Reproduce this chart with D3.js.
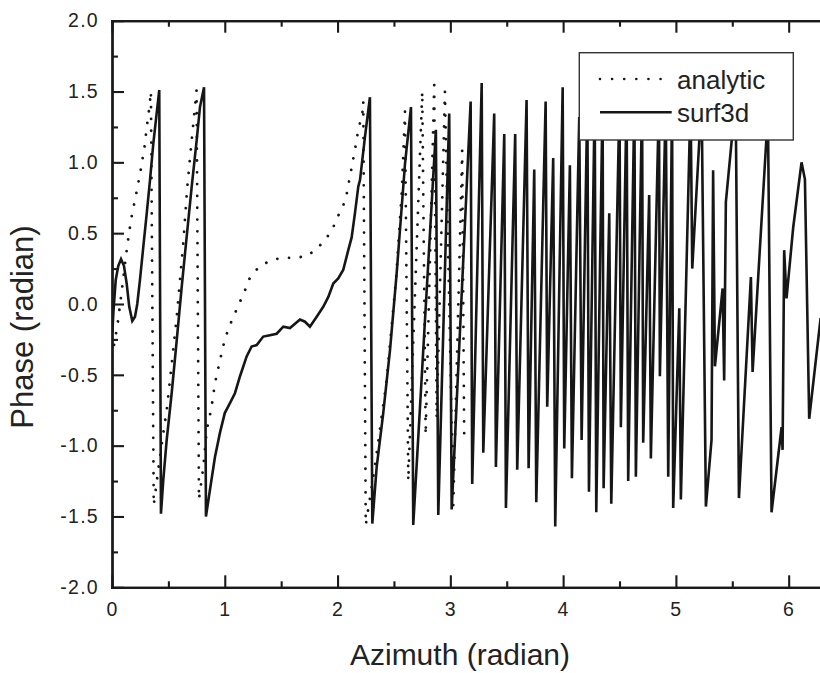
<!DOCTYPE html>
<html>
<head>
<meta charset="utf-8">
<script src="https://cdn.jsdelivr.net/npm/d3@7"></script>
<style>
  html, body { margin: 0; padding: 0; background: #fff; }
  svg { display: block; font-family: "Liberation Sans", Arial, Helvetica, sans-serif; }
  .axis .domain { stroke: #1a1a1a; stroke-width: 2.3; stroke-linecap: square; }
  .axis .tick line { stroke: #1a1a1a; stroke-width: 2.1; }
  .axis .tick text { fill: #222; font-size: 19.5px; letter-spacing: 1.3px; }
</style>
</head>
<body>
<div id="chart"></div>
<script>
// analytic phase (dotted)
const analyticX = [0.0, 0.02, 0.05, 0.08, 0.11, 0.14, 0.17, 0.20, 0.23, 0.26, 0.29, 0.31, 0.33, 0.345,
  0.37, 0.41, 0.455, 0.485, 0.53, 0.574, 0.603, 0.632, 0.668, 0.707, 0.73, 0.75,
  0.771, 0.81, 0.84, 0.88, 0.913, 0.957, 1.0, 1.045, 1.09, 1.135, 1.18, 1.22, 1.30, 1.41, 1.51, 1.62,
  1.73, 1.83, 1.92, 1.98, 2.02, 2.07, 2.11, 2.15, 2.184, 2.22, 2.228,
  2.25, 2.33, 2.435, 2.52, 2.57, 2.598,
  2.627, 2.751, 2.781, 2.857, 2.879, 2.952, 3.026, 3.105, 3.123]
const analyticY = [-0.37, -0.28, -0.14, 0.05, 0.25, 0.44, 0.60, 0.72, 0.84, 0.97, 1.12, 1.26, 1.38, 1.50,
  -1.42, -1.17, -0.91, -0.75, -0.42, -0.09, 0.17, 0.43, 0.83, 1.16, 1.345, 1.51,
  -1.38, -1.15, -0.89, -0.74, -0.56, -0.40, -0.25, -0.15, -0.066, 0.016, 0.098, 0.18, 0.26, 0.31, 0.326, 0.326,
  0.338, 0.40, 0.486, 0.57, 0.65, 0.73, 0.90, 1.07, 1.23, 1.345, 1.43,
  -1.56, -1.15, -0.54, 0.19, 0.80, 1.36,
  -1.25, 1.50, -0.925, 1.545, -0.81, 1.50, -1.42, 1.085, -0.96]

// surf3d phase (solid)
const surfX = [0.003, 0.013, 0.033, 0.056, 0.08, 0.106, 0.13, 0.153, 0.18, 0.204, 0.224, 0.248, 0.277, 0.308,
  0.337, 0.366, 0.396, 0.419,
  0.434, 0.455, 0.485, 0.529, 0.574, 0.618, 0.662, 0.707, 0.751, 0.78, 0.816,
  0.833, 0.869, 0.913, 0.957, 1.0, 1.046, 1.09, 1.135, 1.194, 1.238, 1.283, 1.341, 1.40, 1.46, 1.519, 1.578,
  1.667, 1.711, 1.755, 1.815, 1.873, 1.918, 1.962, 2.006, 2.05, 2.095, 2.125, 2.154, 2.184, 2.199, 2.243, 2.287,
  2.308, 2.347, 2.405, 2.465, 2.524, 2.598, 2.651,
  2.671, 2.872, 2.893, 2.99, 3.012, 3.18, 3.194, 3.278, 3.292, 3.389, 3.404, 3.478, 3.493, 3.575, 3.593,
  3.676, 3.694, 3.744, 3.762, 3.845, 3.859, 3.912, 3.93, 3.996, 4.01, 4.06, 4.078, 4.143, 4.164,
  4.215, 4.229, 4.28, 4.294, 4.35, 4.359, 4.409, 4.427, 4.5, 4.512, 4.563, 4.577, 4.632, 4.645,
  4.70, 4.71, 4.763, 4.778, 4.85, 4.858, 4.91, 4.932, 4.966, 4.976, 5.03, 5.044, 5.13, 5.145, 5.228, 5.266,
  5.316, 5.33, 5.346, 5.414, 5.428, 5.443, 5.53, 5.559, 5.665, 5.68, 5.816, 5.848,
  5.937, 5.946, 5.96, 5.981, 6.04, 6.114, 6.144, 6.182, 6.283]
const surfY = [-0.2, -0.05, 0.17, 0.27, 0.317, 0.27, 0.145, -0.02, -0.12, -0.09, 0.0, 0.17, 0.40, 0.64,
  0.875, 1.13, 1.345, 1.51,
  -1.48, -1.24, -0.96, -0.63, -0.255, 0.12, 0.474, 0.83, 1.157, 1.39, 1.53,
  -1.50, -1.31, -1.08, -0.91, -0.77, -0.70, -0.63, -0.51, -0.37, -0.30, -0.29, -0.23, -0.22, -0.21, -0.16, -0.17,
  -0.11, -0.125, -0.16, -0.09, -0.02, 0.05, 0.145, 0.18, 0.24, 0.38, 0.47, 0.64, 0.83, 0.875, 1.18, 1.46,
  -1.55, -1.15, -0.77, -0.325, 0.216, 0.99, 1.39,
  -1.56, 1.23, -1.49, 1.345, -1.45, 1.43, -1.27, 1.56, -1.05, 1.345, -1.15, 1.20, -1.44, 1.20, -1.17,
  1.44, -1.16, 0.95, -1.40, 1.43, -0.725, 1.03, -1.57, 1.53, -1.02, 0.98, -1.23, 1.32, -0.96,
  1.45, -1.325, 1.45, -1.47, 1.45, -1.30, 0.64, -1.41, 1.45, -0.87, 1.45, -1.25, 1.45, -1.22,
  1.45, -0.98, 0.77, -1.09, 1.45, -0.51, 1.45, -1.22, 1.45, -1.44, -0.03, -1.38, 1.45, 0.25, 1.45, -1.43,
  -0.96, 0.945, -0.44, 0.11, -0.54, 0.72, 1.45, -1.37, 0.19, -0.48, 1.35, -1.47,
  -0.87, -1.03, 0.38, 0.04, 0.54, 1.00, 0.88, -0.81, -0.10]

const xMajor = [0, 1, 2, 3, 4, 5, 6]
const xMinor = [0.5, 1.5, 2.5, 3.5, 4.5, 5.5]
const yMajor = [-2, -1.5, -1, -0.5, 0, 0.5, 1, 1.5, 2]
const yMinor = [-1.75, -1.25, -0.75, -0.25, 0.25, 0.75, 1.25, 1.75]

const seriesNames = ["analytic", "surf3d"]

;(function() {
    let w = 820, h = 673
    let left = 112, plotTop = 20.7, plotBottom = 587.3
    let ink = "#161616"

    let x = d3.scaleLinear().domain([0, 2 * Math.PI]).range([left, left + 2 * Math.PI * 112.78])
    let y = d3.scaleLinear().domain([-2, 2]).range([plotBottom, plotTop])

    let svg = d3.select("#chart").append("svg")
                .attr("width", w)
                .attr("height", h)

    svg.append("defs").append("clipPath").attr("id", "plot")
       .append("rect")
       .attr("x", left).attr("y", plotTop)
       .attr("width", x.range()[1] - left).attr("height", plotBottom - plotTop)

    let line = d3.line().x(d => x(d[0])).y(d => y(d[1]))

    let plot = svg.append("g").attr("clip-path", "url(#plot)")

    // analytic, dotted
    plot.append("path")
        .datum(d3.zip(analyticX, analyticY))
        .attr("d", line)
        .attr("fill", "none")
        .attr("stroke", ink)
        .attr("stroke-width", 2.8)
        .attr("stroke-linecap", "round")
        .attr("stroke-dasharray", "0.01 11.8")

    // surf3d, solid
    plot.append("path")
        .datum(d3.zip(surfX, surfY))
        .attr("d", line)
        .attr("fill", "none")
        .attr("stroke", ink)
        .attr("stroke-width", 2.6)
        .attr("stroke-linejoin", "miter")
        .attr("stroke-miterlimit", 3)

    // axes, ticks point inward
    let fmtX = d => String(d)
    let fmtY = d => d.toFixed(1)

    svg.append("g").attr("class", "axis")
       .attr("transform", "translate(0," + plotBottom + ")")
       .call(d3.axisBottom(x).tickValues(xMinor).tickSize(-6).tickSizeOuter(0).tickFormat(""))
    svg.append("g").attr("class", "axis")
       .attr("transform", "translate(0," + plotBottom + ")")
       .call(d3.axisBottom(x).tickValues(xMajor).tickSize(-12).tickSizeOuter(0).tickPadding(15).tickFormat(fmtX))

    svg.append("g").attr("class", "axis")
       .attr("transform", "translate(0," + plotTop + ")")
       .call(d3.axisTop(x).tickValues(xMinor).tickSize(-6).tickSizeOuter(0).tickFormat(""))
    svg.append("g").attr("class", "axis")
       .attr("transform", "translate(0," + plotTop + ")")
       .call(d3.axisTop(x).tickValues(xMajor).tickSize(-12).tickSizeOuter(0).tickFormat(""))

    svg.append("g").attr("class", "axis")
       .attr("transform", "translate(" + left + ",0)")
       .call(d3.axisLeft(y).tickValues(yMinor).tickSize(-6).tickSizeOuter(0).tickFormat(""))
    svg.append("g").attr("class", "axis")
       .attr("transform", "translate(" + left + ",0)")
       .call(d3.axisLeft(y).tickValues(yMajor).tickSize(-12).tickSizeOuter(0).tickPadding(13).tickFormat(fmtY))

    // axis titles
    svg.append("text")
       .text("Azimuth (radian)")
       .attr("x", 460).attr("y", 665)
       .attr("text-anchor", "middle")
       .attr("font-size", 30)
       .attr("fill", "#222")

    svg.append("text")
       .text("Phase (radian)")
       .attr("transform", "translate(33,327) rotate(-90)")
       .attr("text-anchor", "middle")
       .attr("font-size", 31)
       .attr("fill", "#222")

    // legend
    let legend = svg.append("g")
    legend.append("rect")
          .attr("x", 579.3).attr("y", 52.7)
          .attr("width", 214).attr("height", 87.3)
          .attr("fill", "#fff")
          .attr("stroke", "#333")
          .attr("stroke-width", 1.4)

    legend.append("line")
          .attr("x1", 600).attr("x2", 661).attr("y1", 79).attr("y2", 79)
          .attr("stroke", ink).attr("stroke-width", 2.6)
          .attr("stroke-linecap", "round").attr("stroke-dasharray", "0.01 12.1")
    legend.append("line")
          .attr("x1", 600).attr("x2", 671.7).attr("y1", 112.3).attr("y2", 112.3)
          .attr("stroke", ink).attr("stroke-width", 2.5)

    legend.selectAll("text.lab")
          .data(seriesNames)
          .enter()
          .append("text")
          .attr("class", "lab")
          .text(d => d)
          .attr("x", 677)
          .attr("y", (d, i) => 89.3 + i * 32.4)
          .attr("font-size", 26)
          .attr("fill", "#222")
})()
</script>
</body>
</html>
